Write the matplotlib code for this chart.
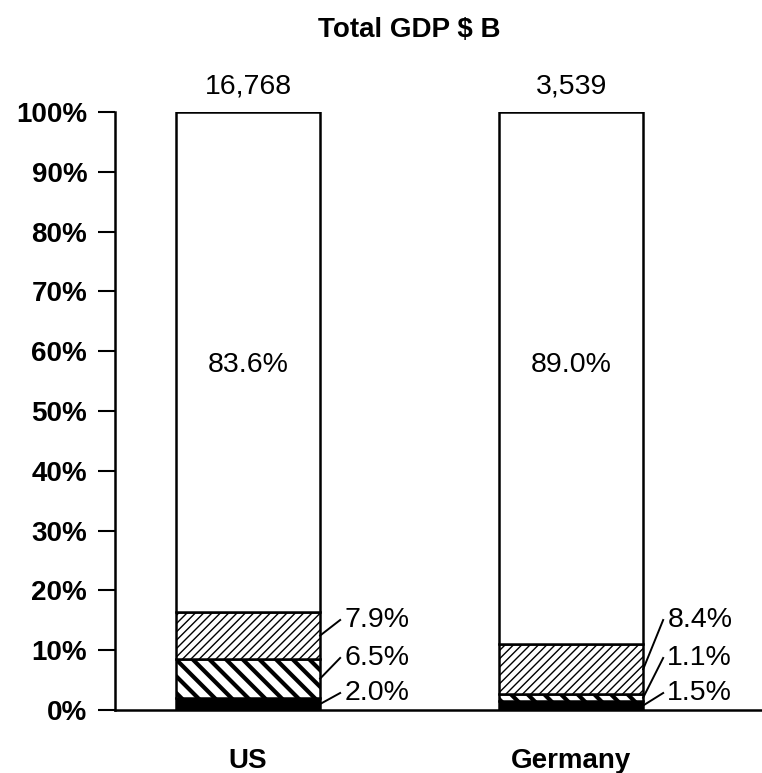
import matplotlib
matplotlib.use('Agg')
import matplotlib.pyplot as plt

plt.rcParams['font.family'] = ['Liberation Sans', 'DejaVu Sans']

# Daten
countries = ['US', 'Germany']
totals = ['16,768', '3,539']
black_part = [2.0, 1.5]
back_part = [6.5, 1.1]
slash_part = [7.9, 8.4]
white_part = [83.6, 89.0]
yticks = list(range(0, 101, 10))

fig = plt.figure(figsize=(7.62, 7.73), dpi=100)
ax = fig.add_axes([115 / 762, 63 / 773, 647 / 762, 598 / 773])

x = [0, 1]
w = 0.446
segments = [
    (black_part, 'black', None, 1.0),
    (back_part, 'white', '\\\\', 3.0),
    (slash_part, 'white', '////', 1.0),
    (white_part, 'white', None, 1.0),
]
bottom = [0.0, 0.0]
for vals, fc, hatch, hlw in segments:
    plt.rcParams['hatch.linewidth'] = hlw
    bars = ax.bar(x, vals, w, bottom=bottom, color=fc, edgecolor='black',
                  linewidth=1.8, hatch=hatch)
    for b in bars:
        if hasattr(b, 'set_hatch_linewidth'):
            b.set_hatch_linewidth(hlw)
    bottom = [b0 + v for b0, v in zip(bottom, vals)]

# Beschriftungen
lab_y = [15.05, 8.7, 2.84]
for i in range(2):
    right = x[i] + w / 2
    mids = [black_part[i] / 2,
            black_part[i] + back_part[i] / 2,
            black_part[i] + back_part[i] + slash_part[i] / 2]
    vals = [slash_part[i], back_part[i], black_part[i]]
    for ly, m, v in zip(lab_y, mids[::-1], vals):
        ax.plot([right, right + 0.062], [m, ly], color='black', lw=1.4,
                clip_on=False)
        ax.text(right + 0.075, ly, f'{v:.1f}%', fontsize=20.5,
                va='center', ha='left')
    ax.text(x[i], 57.7, f'{white_part[i]:.1f}%', fontsize=20.5,
            ha='center', va='center')
    ax.text(x[i], 104.2, totals[i], fontsize=20.5, ha='center',
            va='center', clip_on=False)

ax.text(0.5, 113.7, 'Total GDP $ B', fontsize=20, fontweight='bold',
        ha='center', va='center')

ax.set_xlim(-0.412, 1.591)
ax.set_ylim(0, 100)
ax.set_yticks(yticks)
ax.set_yticklabels([f'{t}%' for t in yticks], fontsize=20,
                   fontweight='bold')
ax.set_xticks(x)
ax.set_xticklabels(countries, fontsize=20, fontweight='bold')
ax.tick_params(axis='y', length=12, width=1.5, pad=8)
ax.tick_params(axis='x', length=0, pad=27)
for s in ['top', 'right']:
    ax.spines[s].set_visible(False)
ax.spines['left'].set_linewidth(1.8)
ax.spines['bottom'].set_linewidth(1.8)

fig.savefig('out.png', dpi=100)
